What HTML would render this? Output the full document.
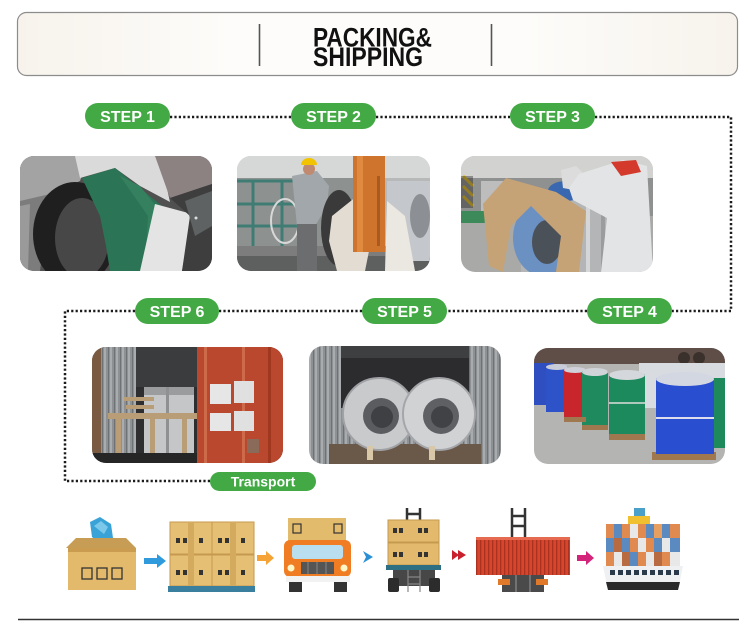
<!DOCTYPE html>
<html><head><meta charset="utf-8"><style>
html,body{margin:0;padding:0;background:#fff;}
svg{display:block;}
</style></head><body>
<svg width="750" height="632" viewBox="0 0 750 632" xmlns="http://www.w3.org/2000/svg" font-family="'Liberation Sans', Arial, sans-serif">
<defs>
  <clipPath id="c1"><rect x="0" y="0" width="192" height="115" rx="14"/></clipPath>
  <clipPath id="c2"><rect x="0" y="0" width="193" height="115" rx="14"/></clipPath>
  <clipPath id="c3"><rect x="0" y="0" width="192" height="116" rx="14"/></clipPath>
  <clipPath id="c6"><rect x="0" y="0" width="191" height="116" rx="14"/></clipPath>
  <clipPath id="c5"><rect x="0" y="0" width="192" height="118" rx="14"/></clipPath>
  <clipPath id="c4"><rect x="0" y="0" width="191" height="116" rx="14"/></clipPath>
  <pattern id="corr" width="6" height="10" patternUnits="userSpaceOnUse">
    <rect width="6" height="10" fill="#8e9193"/><rect width="2" height="10" fill="#a9acae"/><rect x="4" width="1" height="10" fill="#6f7274"/>
  </pattern>
  <pattern id="rib" width="4" height="10" patternUnits="userSpaceOnUse">
    <rect width="4" height="10" fill="#d6452c"/><rect width="1.3" height="10" fill="#a93220"/>
  </pattern>
  <linearGradient id="hdr" x1="0" x2="1">
    <stop offset="0" stop-color="#f7f3ec"/><stop offset="0.3" stop-color="#fdfcfa"/><stop offset="0.7" stop-color="#fdfcfa"/><stop offset="1" stop-color="#f7f3ec"/>
  </linearGradient>
</defs>

<!-- Header -->
<rect x="17.5" y="12.5" width="720" height="63" rx="9" fill="url(#hdr)" stroke="#8c8c8c" stroke-width="1.2"/>
<line x1="259.5" y1="24" x2="259.5" y2="66" stroke="#555" stroke-width="1.6"/>
<line x1="491.5" y1="24" x2="491.5" y2="66" stroke="#555" stroke-width="1.6"/>
<text x="313" y="46.5" font-size="27" font-weight="bold" fill="#111" textLength="119" lengthAdjust="spacingAndGlyphs">PACKING&amp;</text>
<text x="313" y="66" font-size="27" font-weight="bold" fill="#111" textLength="110" lengthAdjust="spacingAndGlyphs">SHIPPING</text>

<!-- Dotted connectors -->
<path d="M170,117 H291 M376,117 H510 M595,117 H731 V311 H672 M587,311 H447 M362,311 H219 M135,311 H65 V481 H210" fill="none" stroke="#1b1b1b" stroke-width="2.5" stroke-dasharray="2.2 2.2"/>

<!-- Pills -->
<g fill="#42a944">
  <rect x="85" y="103" width="85" height="26" rx="13"/>
  <rect x="291" y="103" width="85" height="26" rx="13"/>
  <rect x="510" y="103" width="85" height="26" rx="13"/>
  <rect x="587" y="298" width="85" height="26" rx="13"/>
  <rect x="362" y="298" width="85" height="26" rx="13"/>
  <rect x="135" y="298" width="84" height="26" rx="13"/>
  <rect x="210" y="472" width="106" height="19" rx="9.5"/>
</g>
<g fill="#fff" font-weight="bold" font-size="16" text-anchor="middle">
  <text x="127.5" y="122">STEP 1</text>
  <text x="333.5" y="122">STEP 2</text>
  <text x="552.5" y="122">STEP 3</text>
  <text x="629.5" y="317">STEP 4</text>
  <text x="404.5" y="317">STEP 5</text>
  <text x="177" y="317">STEP 6</text>
  <text x="263" y="486.5" font-size="14">Transport</text>
</g>

<!-- Photo 1 -->
<g transform="translate(20,156)" clip-path="url(#c1)">
  <rect width="192" height="115" fill="#505050"/>
  <polygon points="0,0 70,0 60,25 30,38 0,48" fill="#a3a3a3"/>
  <polygon points="55,0 140,0 150,46 120,30 95,12 60,22" fill="#dadada"/>
  <polygon points="135,0 192,0 192,28 150,42" fill="#8d8282"/>
  <polygon points="0,45 30,38 20,115 0,115" fill="#7c7c7c"/>
  <polygon points="0,50 10,48 8,115 0,115" fill="#9a9a9a"/>
  <ellipse cx="55" cy="78" rx="42" ry="52" fill="#1f1f1f"/>
  <ellipse cx="62" cy="82" rx="27" ry="40" fill="#474747"/>
  <polygon points="62,22 95,12 142,50 138,115 90,115 86,90 80,60" fill="#2c7456"/>
  <polygon points="100,20 120,30 140,55 136,115 125,115 128,60" fill="#35805f"/>
  <polygon points="135,48 172,58 162,115 120,115" fill="#e4e4e4"/>
  <polygon points="150,42 192,28 192,115 162,115 170,60" fill="#3e3e3e"/>
  <polygon points="165,45 192,35 192,70 175,80" fill="#5e6262"/>
  <circle cx="176" cy="62" r="1.5" fill="#ddd"/>
</g>

<!-- Photo 2 -->
<g transform="translate(237,156)" clip-path="url(#c2)">
  <rect width="193" height="115" fill="#b6b9b8"/>
  <rect width="193" height="22" fill="#d6d8d7"/>
  <rect x="0" y="22" width="120" height="70" fill="#8d9291"/>
  <g stroke="#3f7c74" stroke-width="3">
    <line x1="0" y1="25" x2="60" y2="25"/><line x1="0" y1="48" x2="60" y2="48"/><line x1="0" y1="70" x2="60" y2="70"/>
    <line x1="16" y1="25" x2="16" y2="90"/><line x1="45" y1="25" x2="45" y2="90"/>
  </g>
  <ellipse cx="48" cy="65" rx="14" ry="22" fill="none" stroke="#d8d8d8" stroke-width="2"/>
  <rect x="0" y="90" width="193" height="25" fill="#7c7d7c"/>
  <rect x="0" y="100" width="193" height="15" fill="#5e5f5f"/>
  <polygon points="55,20 80,15 92,30 90,50 78,70 60,70" fill="#a2a7ab"/>
  <rect x="60" y="68" width="20" height="47" fill="#6b6d6e"/>
  <circle cx="72" cy="13" r="6" fill="#c08a70"/>
  <path d="M64,9 A8,7 0 0 1 80,9 Z" fill="#f2c400"/>
  <ellipse cx="102" cy="72" rx="18" ry="38" fill="#3a3a3a"/>
  <polygon points="95,60 120,40 135,80 128,115 100,115 92,85" fill="#e3dcd3"/>
  <rect x="116" y="0" width="32" height="96" fill="#cf742d"/>
  <rect x="120" y="0" width="6" height="96" fill="#e08a40"/>
  <rect x="140" y="20" width="3" height="70" fill="#a85a20"/>
  <rect x="150" y="25" width="43" height="80" fill="#c4c7cb"/>
  <ellipse cx="183" cy="60" rx="10" ry="22" fill="#8c9094"/>
  <polygon points="150,45 168,60 178,115 148,115" fill="#ebe7e1"/>
</g>

<!-- Photo 3 -->
<g transform="translate(461,156)" clip-path="url(#c3)">
  <rect width="192" height="116" fill="#a9aaa8"/>
  <rect width="192" height="22" fill="#d2d3d0"/>
  <rect x="0" y="22" width="192" height="38" fill="#8f9090"/>
  <g stroke="#e0b820" stroke-width="3"><line x1="2" y1="20" x2="12" y2="30"/><line x1="2" y1="30" x2="12" y2="40"/><line x1="2" y1="40" x2="12" y2="50"/></g>
  <rect x="0" y="20" width="12" height="32" fill="#222" opacity="0.4"/>
  <rect x="20" y="25" width="32" height="32" fill="#bdbdbd"/>
  <rect x="0" y="55" width="25" height="12" fill="#3c8a5a"/>
  <rect x="60" y="42" width="110" height="74" fill="#b3b5b7"/>
  <rect x="125" y="42" width="4" height="74" fill="#d4d6d8"/>
  <rect x="140" y="42" width="4" height="74" fill="#9a9c9e"/>
  <ellipse cx="105" cy="35" rx="18" ry="10" fill="#3a68b0"/>
  <ellipse cx="82" cy="82" rx="30" ry="38" fill="#6b90c2"/>
  <ellipse cx="86" cy="86" rx="15" ry="22" fill="#4b5159"/>
  <polygon points="22,48 45,22 95,36 125,55 118,116 95,116 100,80 70,50 50,70 42,116 28,110" fill="#c5a377"/>
  <polygon points="100,14 115,10 125,20 118,35 102,32" fill="#dcdcdc"/>
  <polygon points="118,18 162,4 186,10 192,116 140,116 146,62 112,44 108,32" fill="#e3e4e6"/>
  <polygon points="150,6 175,4 180,16 160,20" fill="#d33a2b"/>
</g>

<!-- Photo 6 -->
<g transform="translate(92,347)" clip-path="url(#c6)">
  <rect width="191" height="116" fill="#2e2e30"/>
  <rect x="0" y="0" width="44" height="116" fill="url(#corr)"/>
  <rect x="0" y="0" width="9" height="116" fill="#7a5a40"/>
  <rect x="44" y="0" width="62" height="40" fill="#3b3c3e"/>
  <rect x="52" y="40" width="50" height="66" fill="#c4c6c8"/>
  <rect x="52" y="40" width="50" height="8" fill="#9a9c9e"/>
  <rect x="74" y="40" width="3" height="66" fill="#8e9092"/>
  <g fill="#b99d76">
    <rect x="16" y="66" width="92" height="6"/>
    <rect x="24" y="66" width="5" height="50"/>
    <rect x="58" y="66" width="5" height="50"/>
    <rect x="90" y="66" width="5" height="50"/>
    <rect x="32" y="50" width="30" height="4"/>
    <rect x="34" y="58" width="28" height="4"/>
  </g>
  <rect x="0" y="106" width="106" height="10" fill="#262626"/>
  <rect x="105" y="0" width="86" height="116" fill="#b9482e"/>
  <rect x="112" y="0" width="3" height="116" fill="#cd6a4a"/>
  <rect x="150" y="0" width="3" height="116" fill="#cd6a4a"/>
  <rect x="176" y="0" width="3" height="116" fill="#a03820"/>
  <rect x="118" y="37" width="21" height="20" fill="#e6e6e6"/>
  <rect x="142" y="34" width="20" height="22" fill="#e0e0e0"/>
  <rect x="118" y="66" width="21" height="18" fill="#e6e6e6"/>
  <rect x="142" y="64" width="20" height="20" fill="#e0e0e0"/>
  <rect x="155" y="92" width="12" height="14" fill="#8a6a58"/>
</g>

<!-- Photo 5 -->
<g transform="translate(309,346)" clip-path="url(#c5)">
  <rect width="192" height="118" fill="url(#corr)"/>
  <rect x="32" y="0" width="128" height="62" fill="#2c2c2e"/>
  <rect x="32" y="0" width="128" height="12" fill="#3e3f41"/>
  <rect x="20" y="98" width="152" height="20" fill="#6a5848"/>
  <circle cx="70" cy="68" r="36" fill="#c8cacc"/>
  <circle cx="70" cy="68" r="36" fill="none" stroke="#9fa1a4" stroke-width="2"/>
  <circle cx="72" cy="70" r="18" fill="#5a5c60"/>
  <circle cx="73" cy="71" r="11" fill="#3e4044"/>
  <circle cx="130" cy="68" r="36" fill="#d0d2d4"/>
  <circle cx="130" cy="68" r="36" fill="none" stroke="#a4a6a9" stroke-width="2"/>
  <circle cx="132" cy="70" r="18" fill="#5e6064"/>
  <circle cx="133" cy="71" r="11" fill="#404246"/>
  <rect x="58" y="100" width="6" height="14" fill="#d8c8a8"/>
  <rect x="120" y="100" width="6" height="14" fill="#d8c8a8"/>
</g>

<!-- Photo 4 -->
<g transform="translate(534,348)" clip-path="url(#c4)">
  <rect width="191" height="116" fill="#b4b4b2"/>
  <rect width="191" height="16" fill="#5f4e48"/>
  <circle cx="150" cy="10" r="6" fill="#3a302c"/><circle cx="165" cy="10" r="6" fill="#3a302c"/>
  <rect x="105" y="15" width="86" height="45" fill="#d8dbe0"/>
  <rect x="0" y="15" width="20" height="42" fill="#2f4fc0"/>
  <rect x="12" y="18" width="22" height="46" fill="#2e52c8"/>
  <ellipse cx="23" cy="19" rx="11" ry="3" fill="#c8ccd8"/>
  <rect x="30" y="21" width="22" height="48" fill="#c8262c"/>
  <ellipse cx="41" cy="22" rx="11" ry="3" fill="#d0d0d8"/>
  <rect x="48" y="23" width="26" height="54" fill="#1f8a5e"/>
  <ellipse cx="61" cy="24" rx="13" ry="4" fill="#d0d4d8"/>
  <rect x="75" y="26" width="36" height="60" fill="#1c8a5c"/>
  <ellipse cx="93" cy="27" rx="18" ry="5" fill="#d4d8dc"/>
  <line x1="75" y1="55" x2="111" y2="55" stroke="#ddd" stroke-width="1.5"/>
  <g fill="#a07850">
    <rect x="30" y="69" width="22" height="5"/>
    <rect x="48" y="77" width="26" height="5"/>
    <rect x="75" y="86" width="36" height="6"/>
    <rect x="118" y="104" width="64" height="8"/>
  </g>
  <rect x="122" y="30" width="58" height="76" fill="#2a4ed0"/>
  <ellipse cx="151" cy="31" rx="29" ry="7" fill="#d3d7e2"/>
  <line x1="122" y1="70" x2="180" y2="70" stroke="#dde" stroke-width="2"/>
  <rect x="180" y="30" width="11" height="70" fill="#1e8a5c"/>
</g>

<!-- Bottom icons -->
<!-- box -->
<g>
  <polygon points="90,522 100,517 111,524 113,538 101,545 92,537" fill="#39a3d8"/>
  <polygon points="94,526 101,521 108,527 104,534" fill="#7cc8ea"/>
  <polygon points="66,548 76,538 126,538 136,548" fill="#c79d55"/>
  <rect x="68" y="548" width="68" height="42" fill="#e3b96b"/>
  <rect x="68" y="548" width="68" height="4" fill="#c99c50"/>
  <g fill="none" stroke="#333" stroke-width="1.3">
    <rect x="82" y="568" width="10" height="11"/><rect x="97" y="568" width="10" height="11"/><rect x="112" y="568" width="10" height="11"/>
  </g>
</g>
<path d="M144,558 H157 V554 L166,561 L157,568 V564 H144 Z" fill="#2f9bdc"/>
<!-- pallet -->
<g>
  <g fill="#e5bf74" stroke="#c59a4e" stroke-width="1">
    <rect x="170" y="522" width="42" height="32"/><rect x="212" y="522" width="42" height="32"/>
    <rect x="170" y="555" width="42" height="31"/><rect x="212" y="555" width="42" height="31"/>
  </g>
  <g fill="#d4aa5e"><rect x="188" y="522" width="6" height="64"/><rect x="230" y="522" width="6" height="64"/></g>
  <g fill="#333">
    <rect x="176" y="538" width="4" height="5"/><rect x="183" y="538" width="4" height="5"/><rect x="199" y="538" width="4" height="5"/>
    <rect x="218" y="538" width="4" height="5"/><rect x="225" y="538" width="4" height="5"/><rect x="241" y="538" width="4" height="5"/>
    <rect x="176" y="570" width="4" height="5"/><rect x="183" y="570" width="4" height="5"/><rect x="199" y="570" width="4" height="5"/>
    <rect x="218" y="570" width="4" height="5"/><rect x="225" y="570" width="4" height="5"/><rect x="241" y="570" width="4" height="5"/>
  </g>
  <rect x="168" y="586" width="87" height="6" fill="#3a7f9e"/>
</g>
<path d="M257,555 H266 V551 L274,558 L266,565 V561 H257 Z" fill="#f4a334"/>
<!-- truck -->
<g>
  <rect x="288" y="518" width="58" height="26" fill="#e3bb6c"/>
  <rect x="293" y="524" width="8" height="9" fill="none" stroke="#333" stroke-width="1.2"/>
  <rect x="334" y="524" width="8" height="9" fill="none" stroke="#333" stroke-width="1.2"/>
  <rect x="284" y="540" width="67" height="37" rx="6" fill="#f07d24"/>
  <rect x="292" y="545" width="51" height="14" rx="3" fill="#b8def0"/>
  <rect x="301" y="562" width="33" height="12" fill="#555"/>
  <g stroke="#888" stroke-width="1"><line x1="308" y1="562" x2="308" y2="574"/><line x1="317" y1="562" x2="317" y2="574"/><line x1="326" y1="562" x2="326" y2="574"/></g>
  <circle cx="291" cy="568" r="3.5" fill="#fff6c8"/><circle cx="344" cy="568" r="3.5" fill="#fff6c8"/>
  <rect x="286" y="576" width="64" height="6" fill="#f2f2f2"/>
  <rect x="289" y="582" width="13" height="10" fill="#333"/><rect x="334" y="582" width="13" height="10" fill="#333"/>
</g>
<polygon points="363,551 373,557 363,563 366,557" fill="#2b8fd6"/>
<!-- forklift -->
<g>
  <g stroke="#333" stroke-width="2.5"><line x1="407" y1="508" x2="407" y2="522"/><line x1="420" y1="508" x2="420" y2="522"/><line x1="407" y1="514" x2="420" y2="514"/></g>
  <rect x="388" y="520" width="51" height="22" fill="#e3ba6d" stroke="#c59a4e"/>
  <rect x="388" y="543" width="51" height="22" fill="#e3ba6d" stroke="#c59a4e"/>
  <g fill="#333"><rect x="393" y="528" width="4" height="5"/><rect x="399" y="528" width="4" height="5"/><rect x="418" y="528" width="4" height="5"/><rect x="424" y="528" width="4" height="5"/>
  <rect x="393" y="552" width="4" height="5"/><rect x="399" y="552" width="4" height="5"/><rect x="418" y="552" width="4" height="5"/><rect x="424" y="552" width="4" height="5"/></g>
  <rect x="386" y="565" width="55" height="5" fill="#2f6f84"/>
  <rect x="393" y="570" width="42" height="16" fill="#474747"/>
  <g stroke="#888" stroke-width="1.2"><line x1="408" y1="570" x2="408" y2="592"/><line x1="420" y1="570" x2="420" y2="592"/><line x1="408" y1="577" x2="420" y2="577"/><line x1="408" y1="584" x2="420" y2="584"/></g>
  <rect x="388" y="578" width="11" height="14" rx="2" fill="#2c2c2c"/><rect x="429" y="578" width="11" height="14" rx="2" fill="#2c2c2c"/>
</g>
<path d="M452,550 L459,555 L452,560 Z M458,550 L466,555 L458,560 Z" fill="#c8202c"/>
<!-- container crane -->
<g>
  <g stroke="#333" stroke-width="2.5"><line x1="512" y1="508" x2="512" y2="538"/><line x1="525" y1="508" x2="525" y2="538"/><line x1="512" y1="516" x2="525" y2="516"/><line x1="512" y1="526" x2="525" y2="526"/></g>
  <rect x="476" y="537" width="94" height="38" fill="url(#rib)"/>
  <rect x="476" y="537" width="94" height="3" fill="#e66a50"/>
  <rect x="502" y="575" width="42" height="17" fill="#4a4a4a"/>
  <rect x="498" y="579" width="12" height="6" fill="#e07a2a"/><rect x="536" y="579" width="12" height="6" fill="#e07a2a"/>
  <g stroke="#999" stroke-width="1"><line x1="516" y1="575" x2="516" y2="592"/><line x1="530" y1="575" x2="530" y2="592"/></g>
</g>
<path d="M577,555 H586 V551 L594,558 L586,565 V561 H577 Z" fill="#d3237a"/>
<!-- ship -->
<g>
  <rect x="634" y="508" width="11" height="8" fill="#4aa0c8"/>
  <rect x="628" y="516" width="22" height="8" fill="#f0c030"/>
  <g>
    <rect x="606" y="524" width="74" height="42" fill="#b86a40"/>
    <rect x="606" y="524" width="8" height="14" fill="#e08a50"/><rect x="614" y="524" width="8" height="14" fill="#5a8ac0"/><rect x="622" y="524" width="8" height="14" fill="#e08a50"/><rect x="630" y="524" width="8" height="14" fill="#e8e8e8"/><rect x="638" y="524" width="8" height="14" fill="#e08a50"/><rect x="646" y="524" width="8" height="14" fill="#5a8ac0"/><rect x="654" y="524" width="8" height="14" fill="#e8a060"/><rect x="662" y="524" width="8" height="14" fill="#5a8ac0"/><rect x="670" y="524" width="10" height="14" fill="#e08a50"/>
    <rect x="606" y="538" width="8" height="14" fill="#5a8ac0"/><rect x="614" y="538" width="8" height="14" fill="#b86a40"/><rect x="622" y="538" width="8" height="14" fill="#5a8ac0"/><rect x="630" y="538" width="8" height="14" fill="#e08a50"/><rect x="638" y="538" width="8" height="14" fill="#e8e8e8"/><rect x="646" y="538" width="8" height="14" fill="#e08a50"/><rect x="654" y="538" width="8" height="14" fill="#5a8ac0"/><rect x="662" y="538" width="8" height="14" fill="#e8e8e8"/><rect x="670" y="538" width="10" height="14" fill="#5a8ac0"/>
    <rect x="606" y="552" width="8" height="14" fill="#e08a50"/><rect x="614" y="552" width="8" height="14" fill="#e8e8e8"/><rect x="622" y="552" width="8" height="14" fill="#b86a40"/><rect x="630" y="552" width="8" height="14" fill="#5a8ac0"/><rect x="638" y="552" width="8" height="14" fill="#e08a50"/><rect x="646" y="552" width="8" height="14" fill="#e8e8e8"/><rect x="654" y="552" width="8" height="14" fill="#b86a40"/><rect x="662" y="552" width="8" height="14" fill="#e08a50"/><rect x="670" y="552" width="10" height="14" fill="#e8e8e8"/>
  </g>
  <path d="M603,566 H683 L678,590 H608 Z" fill="#eef0f2"/>
  <g fill="#2a3a4a"><rect x="610" y="570" width="5" height="5"/><rect x="618" y="570" width="5" height="5"/><rect x="626" y="570" width="5" height="5"/><rect x="634" y="570" width="5" height="5"/><rect x="642" y="570" width="5" height="5"/><rect x="650" y="570" width="5" height="5"/><rect x="658" y="570" width="5" height="5"/><rect x="666" y="570" width="5" height="5"/><rect x="674" y="570" width="5" height="5"/></g>
  <path d="M606,582 H680 L678,590 H608 Z" fill="#2a2a2a"/>
</g>

<!-- Bottom rule -->
<line x1="18" y1="619.5" x2="739" y2="619.5" stroke="#333" stroke-width="1.6"/>
</svg>
</body></html>
